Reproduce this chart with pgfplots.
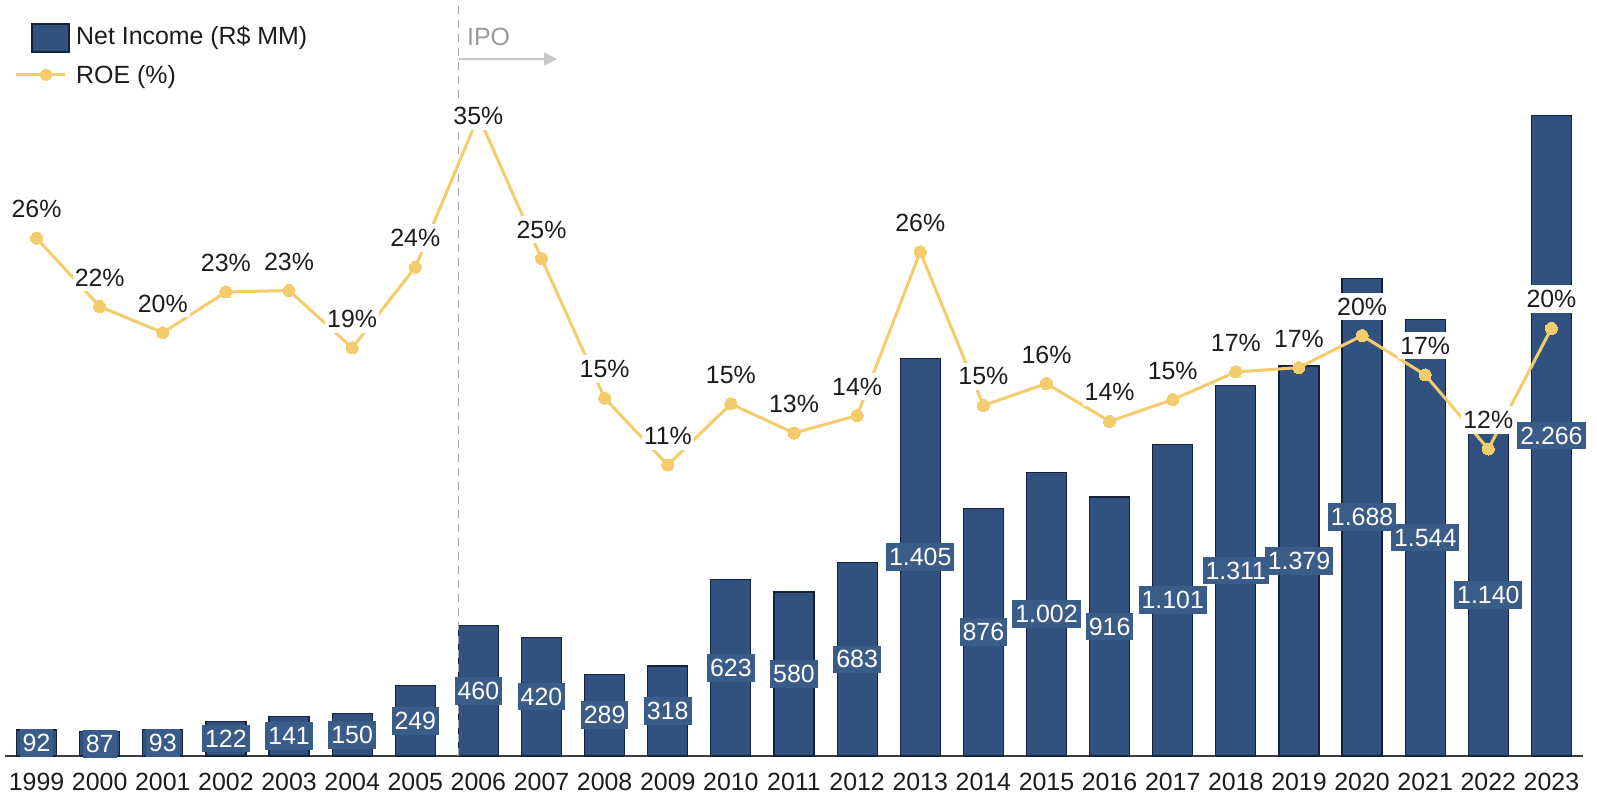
\documentclass[border=0pt]{standalone}
\usepackage{fontspec}
\setmainfont{Liberation Sans}
\usepackage{pgfplots}
\usepackage{pgfplotstable}
\pgfplotsset{compat=1.18}
\usetikzlibrary{arrows.meta}
\definecolor{barblue}{HTML}{31527F}
\definecolor{bardraw}{HTML}{14223A}
\definecolor{lblblue}{HTML}{3A5C88}
\definecolor{roey}{HTML}{F5CC6B}
\definecolor{axisgray}{HTML}{3A3A3A}
\definecolor{txt}{HTML}{1C1C1C}
\definecolor{ipogray}{HTML}{9A9A9A}
\definecolor{ipoarrow}{HTML}{C8C8C8}
\definecolor{dashgray}{HTML}{A8A8A8}

\pgfplotstableread{
x ni lbl roe rlbl lpos
0 92 92 26.6 26 28.6
1 87 87 21.9 22 23.9
2 93 93 20.1 20 22.1
3 122 122 22.9 23 24.9
4 141 141 23.0 23 25.0
5 150 150 19.05 19 21.05
6 249 249 24.6 24 26.6
7 460 460 35.0 35 35.0
8 420 420 25.2 25 27.2
9 289 289 15.6 15 17.6
10 318 318 11.0 11 13.0
11 623 623 15.2 15 17.2
12 580 580 13.2 13 15.2
13 683 683 14.4 14 16.4
14 1405 1.405 25.65 26 27.65
15 876 876 15.1 15 17.1
16 1002 1.002 16.6 16 18.6
17 916 916 14.0 14 16.0
18 1101 1.101 15.5 15 17.5
19 1311 1.311 17.4 17 19.4
20 1379 1.379 17.7 17 19.7
21 1688 1.688 19.9 20 21.9
22 1544 1.544 17.2 17 19.2
23 1140 1.140 12.1 12 14.1
24 2266 2.266 20.4 20 22.4
}\datatable

\begin{document}
\begin{tikzpicture}[font=\fontsize{25}{30}\selectfont]
\useasboundingbox (0,0) rectangle (1597bp,807bp);
\begin{axis}[
  at={(5bp,51bp)}, anchor=south west, scale only axis,
  width=1578bp, height=756bp,
  xmin=-0.5, xmax=24.5, ymin=0, ymax=2673,
  axis x line=bottom, axis y line=none,
  x axis line style={-, draw=axisgray, line width=2bp},
  xtick={0,1,2,3,4,5,6,7,8,9,10,11,12,13,14,15,16,17,18,19,20,21,22,23,24},
  xticklabels={1999,2000,2001,2002,2003,2004,2005,2006,2007,2008,2009,2010,2011,2012,2013,2014,2015,2016,2017,2018,2019,2020,2021,2022,2023},
  major tick length=0pt,
  xticklabel style={font=\fontsize{25}{30}\selectfont, text=txt, inner sep=0pt, anchor=north, yshift=-17bp},
  ytick=\empty,
  clip=false,
]
\addplot[ybar, bar width=40bp, fill=barblue, draw=bardraw, line width=1.2bp] table[x=x,y=ni]{\datatable};
\draw[dashgray, line width=1.5bp, dash pattern=on 8bp off 6bp] (axis cs:6.683,0) -- (axis cs:6.683,2673);
\addplot[draw=none, mark=none, point meta=explicit symbolic,
  nodes near coords={\pgfplotspointmeta}, nodes near coords align={center},
  every node near coord/.append style={anchor=center, fill=lblblue, text=white, inner xsep=3bp, inner ysep=5bp, font=\fontsize{25}{30}\selectfont}]
  table[x=x, y expr=\thisrow{ni}/2, meta=lbl]{\datatable};
\end{axis}
\begin{axis}[
  at={(5bp,51bp)}, anchor=south west, scale only axis,
  width=1578bp, height=756bp,
  xmin=-0.5, xmax=24.5, ymin=-9.01, ymax=42.98,
  hide axis, clip=false,
]
\addplot[roey, line width=3bp, mark=*, mark size=6bp, mark options={fill=roey, draw=roey, line width=0pt}] table[x=x,y=roe]{\datatable};
\addplot[draw=none, mark=none, point meta=explicit symbolic,
  nodes near coords={\pgfplotspointmeta\%}, nodes near coords align={center},
  every node near coord/.append style={anchor=center, fill=white, text=txt, inner xsep=2bp, inner ysep=5bp, font=\fontsize{25}{30}\selectfont}]
  table[x=x, y=lpos, meta=rlbl]{\datatable};
\end{axis}
% legend
\draw[fill=barblue, draw=bardraw, line width=1.2bp] (32bp,755bp) rectangle (69bp,783bp);
\node[anchor=west, inner sep=0pt, text=txt] at (76bp,769bp) {Net Income (R\$ MM)};
\draw[roey, line width=3bp] (16bp,732bp) -- (65bp,732bp);
\fill[roey] (46bp,732bp) circle (6bp);
\node[anchor=west, inner sep=0pt, text=txt] at (76bp,730bp) {ROE (\%)};
% IPO annotation
\node[anchor=west, inner sep=0pt, text=ipogray] at (467bp,770bp) {IPO};
\draw[ipoarrow, line width=2.5bp, -{Triangle[length=13bp,width=13bp]}] (459bp,748bp) -- (557bp,748bp);
\end{tikzpicture}
\end{document}
